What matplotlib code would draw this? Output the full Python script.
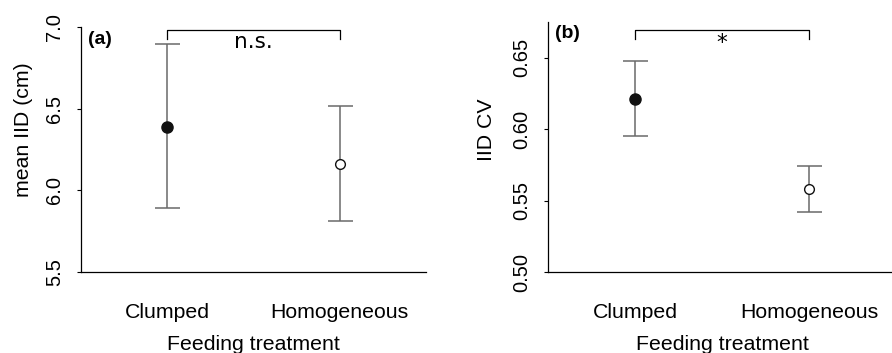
import numpy as np
import matplotlib
matplotlib.use("Agg")
import matplotlib.pyplot as plt

plt.rcParams["font.family"] = ["Liberation Sans", "DejaVu Sans"]

# Feeding treatment groups
treatments = ["Clumped", "Homogeneous"]

# panel (a): mean IID (cm)
iid_mean = [6.39, 6.163]
iid_low = [5.89, 5.81]
iid_high = [6.898, 6.518]

# panel (b): IID CV
cv_mean = [0.621, 0.558]
cv_low = [0.595, 0.542]
cv_high = [0.648, 0.574]

W, H = 892, 353
fig = plt.figure(figsize=(W / 100, H / 100), dpi=100)

ax_a = fig.add_axes([81 / W, 1 - 272 / H, 345 / W, 245 / H])
ax_b = fig.add_axes([548 / W, 1 - 272 / H, 348 / W, 250 / H])

LABEL_FS = 15.3


def draw_panel(ax, mean, low, high, ylim, yticks, fmt, ylabel, tag, tag_y,
               label_xy, bracket_y, bracket_drop, sig, sig_fs):
    x = np.arange(1, len(mean) + 1)
    mean = np.array(mean)
    err = [mean - np.array(low), np.array(high) - mean]
    ax.errorbar(x, mean, yerr=err, fmt="none", ecolor="#6a6a6a",
                elinewidth=1.1, capsize=9, capthick=1.1, zorder=2)
    ax.plot(x[0], mean[0], "o", ms=8, mfc="#111111", mec="#111111", zorder=3)
    ax.plot(x[1], mean[1], "o", ms=7, mfc="white", mec="#111111", mew=1.0, zorder=3)

    ax.set_xlim(0.5, 2.5)
    ax.set_ylim(*ylim)
    ax.set_yticks(yticks)
    ax.set_yticklabels([fmt.format(v) for v in yticks], rotation=90, va="center",
                       fontsize=14.5)
    ax.set_xticks(x)
    ax.set_xticklabels(treatments, fontsize=LABEL_FS)
    ax.tick_params(axis="x", length=0, pad=22)
    ax.tick_params(axis="y", length=3, width=0.8, pad=9)
    for s in ["top", "right"]:
        ax.spines[s].set_visible(False)
    for s in ["left", "bottom"]:
        ax.spines[s].set_linewidth(0.9)
    ax.set_xlabel("Feeding treatment", fontsize=LABEL_FS, labelpad=10)
    ax.set_ylabel(ylabel, fontsize=LABEL_FS)
    ax.yaxis.set_label_coords(*label_xy)

    ax.text(0.02, tag_y, tag, transform=ax.transAxes, fontsize=14,
            fontweight="bold", va="center", ha="left")

    ax.plot([x[0], x[0], x[1], x[1]],
            [bracket_y - bracket_drop, bracket_y, bracket_y, bracket_y - bracket_drop],
            color="black", lw=0.9, clip_on=False)
    ax.text(x.mean(), bracket_y - bracket_drop * 0.3, sig, ha="center", va="top",
            fontsize=sig_fs, family="DejaVu Sans")


draw_panel(ax_a, iid_mean, iid_low, iid_high, (5.5, 7.0), [5.5, 6.0, 6.5, 7.0],
           "{:.1f}", "mean IID (cm)", "(a)", (272 - 40) / 245, (-0.138, 0.58),
           6.984, 0.055, "n.s.", 15.5)
draw_panel(ax_b, cv_mean, cv_low, cv_high, (0.5, 0.675), [0.50, 0.55, 0.60, 0.65],
           "{:.2f}", "IID CV", "(b)", (272 - 33) / 250, (-0.15, 0.568),
           0.6695, 0.0065, "*", 15.5)

fig.savefig("out.png", dpi=100)
